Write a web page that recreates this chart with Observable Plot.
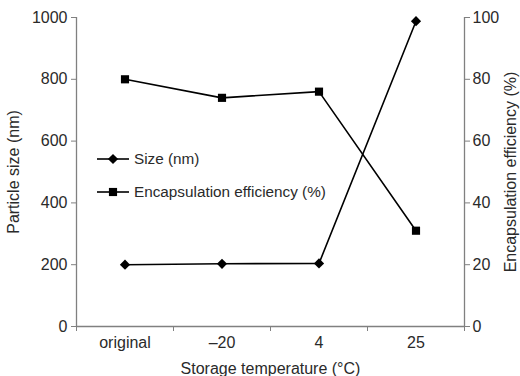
<!DOCTYPE html>
<html><head><meta charset="utf-8">
<script src="https://cdn.jsdelivr.net/npm/d3@7"></script>
<script src="https://cdn.jsdelivr.net/npm/@observablehq/plot@0.6"></script>
<style>
body{margin:0;background:#fff}
#wrap{position:relative;width:520px;height:376px;font-family:"Liberation Sans",Arial,sans-serif}
#legend{position:absolute;left:96px;top:146px}
</style>
</head><body><div id="wrap"></div>
<script>
const categories = ["original", "\u201320", "4", "25"];
const sizeNm = [200, 203, 204, 988];
const encapEff = [80, 74, 76, 31];
const leftTicks = [0, 200, 400, 600, 800, 1000];
const rightTicks = [0, 20, 40, 60, 80, 100];
const seriesNames = ["Size (nm)", "Encapsulation efficiency (%)"];

const rows = categories.map((c, i) => ({i, c, size: sizeNm[i], ee: encapEff[i] * 10}));
const xDom = [-0.5, categories.length - 0.5];
const bounds = d3.range(categories.length + 1).map(k => k - 0.5);
const axisCol = "#808080", textCol = "#2a2a2a";

const chart = Plot.plot({
  width: 520, height: 376,
  marginLeft: 76, marginRight: 56, marginTop: 17, marginBottom: 50,
  style: {fontFamily: '"Liberation Sans", Arial, sans-serif', fontSize: "16px", background: "#fff"},
  x: {domain: xDom},
  y: {domain: [0, 1000]},
  marks: [
    Plot.ruleX([xDom[0]], {y1: 0, y2: 1000, stroke: axisCol, strokeWidth: 1.3}),
    Plot.ruleX([xDom[1]], {y1: 0, y2: 1000, stroke: axisCol, strokeWidth: 1.3}),
    Plot.ruleY([0], {stroke: axisCol, strokeWidth: 1.3}),
    Plot.axisY({ticks: leftTicks, tickFormat: d3.format("d"), tickSize: 5, tickPadding: 4, stroke: axisCol, fill: textCol,
      label: "Particle size (nm)", labelAnchor: "center", labelArrow: "none", labelOffset: 69}),
    Plot.axisY({anchor: "right", ticks: rightTicks.map(d => d * 10), tickFormat: d => d / 10,
      tickSize: 5, tickPadding: 3, stroke: axisCol, fill: textCol,
      label: "Encapsulation efficiency (%)", labelAnchor: "center", labelArrow: "none", labelOffset: 51}),
    Plot.axisX({ticks: bounds, tickSize: 5, tickFormat: () => "", stroke: axisCol, label: null}),
    Plot.axisX({ticks: d3.range(categories.length), tickSize: 0, tickPadding: 10, tickFormat: i => categories[i],
      fill: textCol, label: "Storage temperature (\u00b0C)", labelAnchor: "center", labelArrow: "none", labelOffset: 47}),
    Plot.line(rows, {x: "i", y: "size", stroke: "#000", strokeWidth: 1.6}),
    Plot.line(rows, {x: "i", y: "ee", stroke: "#000", strokeWidth: 1.6}),
    Plot.dot(rows, {x: "i", y: "size", symbol: "diamond2", r: 4.6, fill: "#000", stroke: "none"}),
    Plot.dot(rows, {x: "i", y: "ee", symbol: "square", r: 4.6, fill: "#000", stroke: "none"})
  ]
});
const wrap = document.getElementById("wrap");
wrap.appendChild(chart);

// legend overlay
const lg = d3.select(wrap).append("svg").attr("id", "legend").attr("width", 260).attr("height", 60);
const syms = [d3.symbolDiamond2, d3.symbolSquare];
seriesNames.forEach((name, k) => {
  const g = lg.append("g").attr("transform", `translate(0,${13 + k * 33})`);
  g.append("line").attr("x1", 1).attr("x2", 33).attr("stroke", "#000").attr("stroke-width", 1.6);
  g.append("path").attr("transform", "translate(17,0)").attr("d", d3.symbol(syms[k], Math.PI * 4.6 * 4.6)()).attr("fill", "#000");
  g.append("text").attr("x", 38).attr("dy", "0.35em").attr("font-size", 15.3).attr("fill", textCol)
    .attr("font-family", '"Liberation Sans", Arial, sans-serif').text(name);
});
</script>
</body></html>
